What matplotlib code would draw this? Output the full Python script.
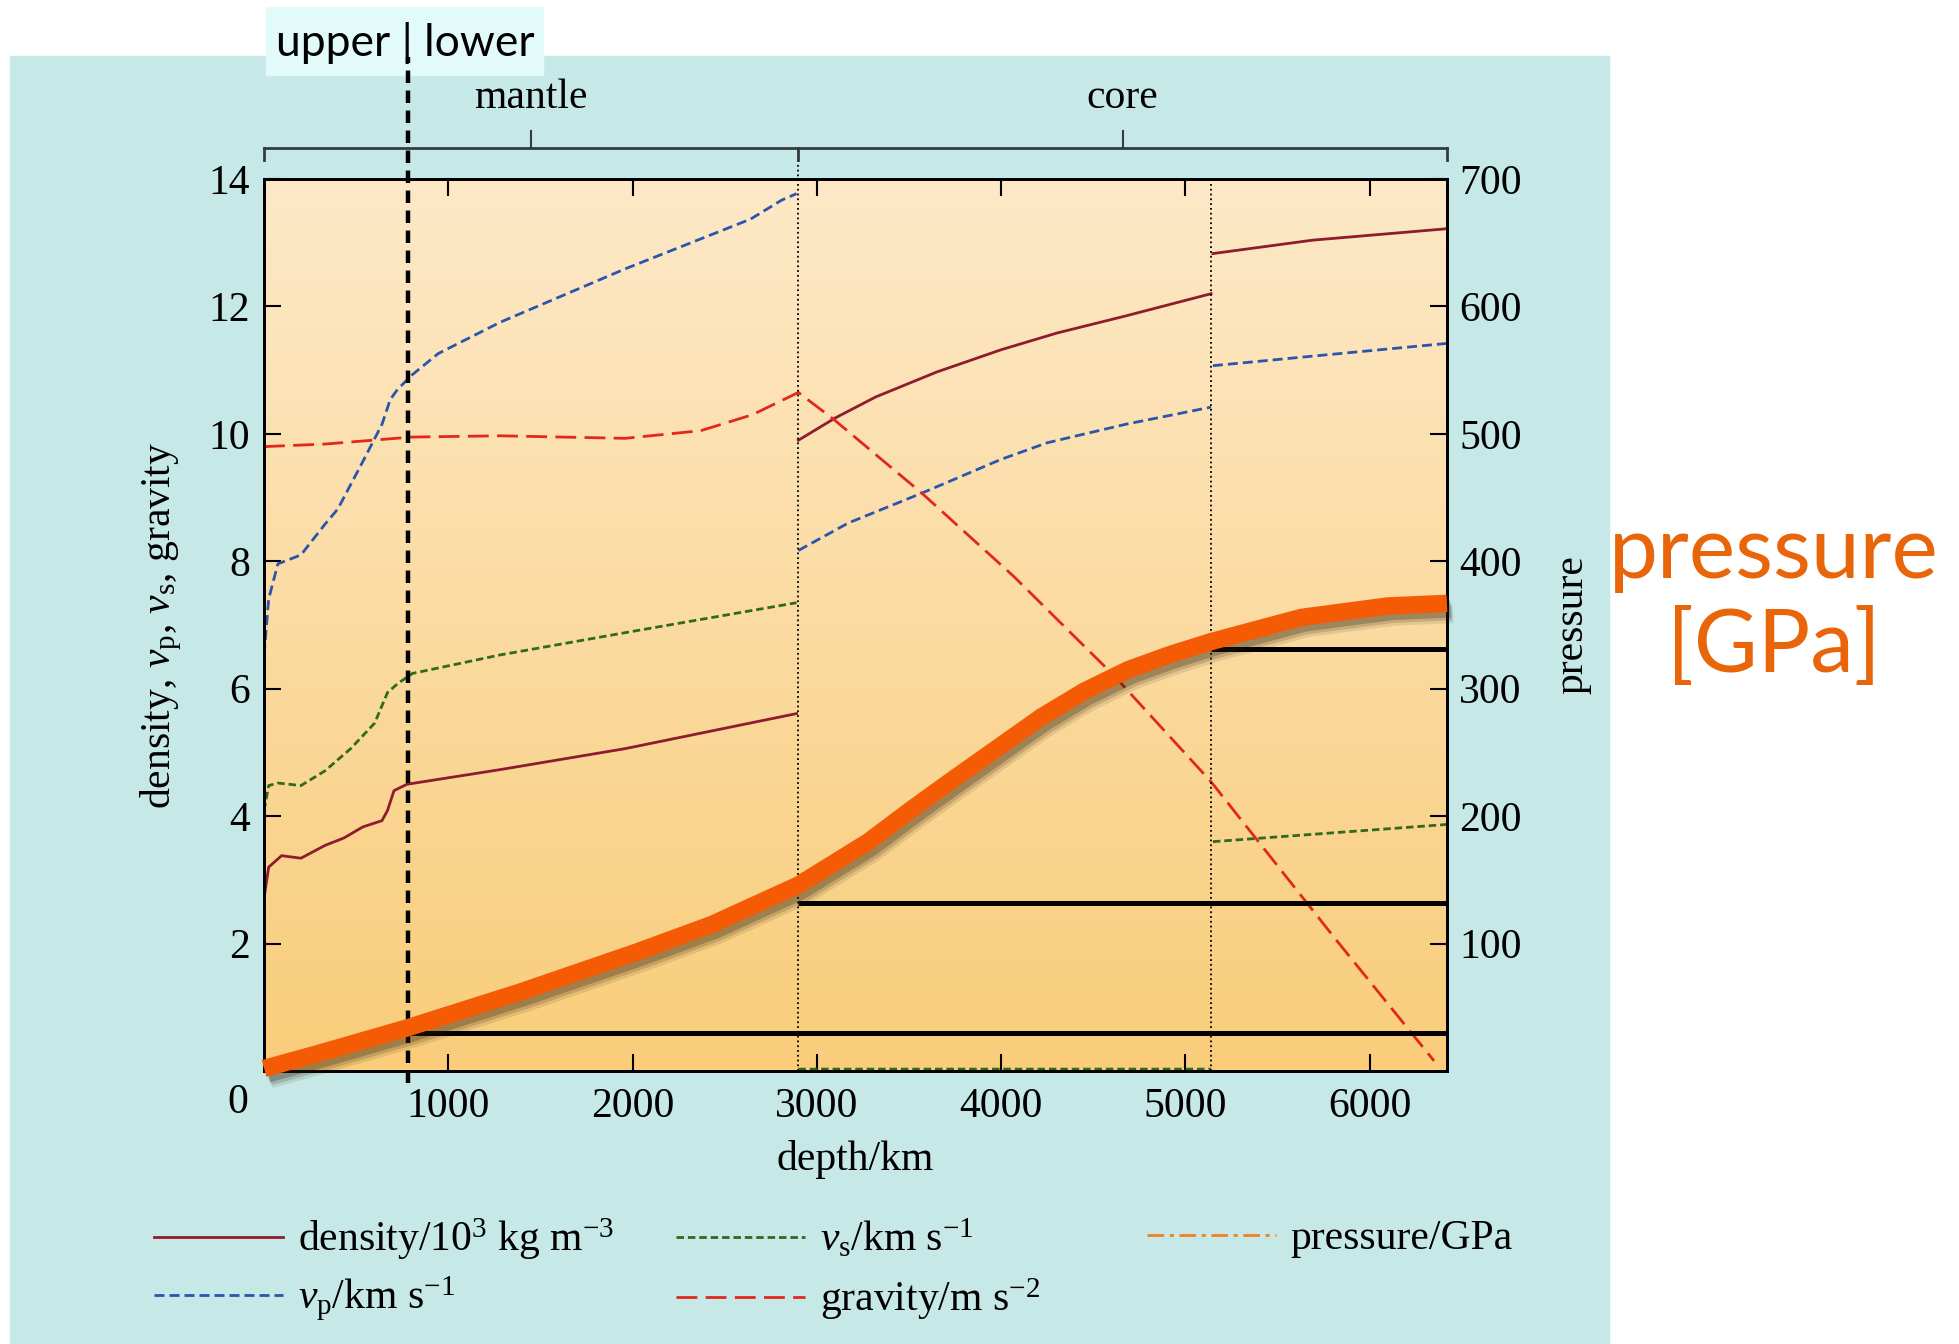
import numpy as np
import matplotlib.pyplot as plt
import matplotlib.patheffects as pe
from matplotlib.patches import Rectangle
from matplotlib.colors import LinearSegmentedColormap

plt.rcParams['font.family'] = 'Liberation Serif'
plt.rcParams['mathtext.fontset'] = 'custom'
plt.rcParams['mathtext.rm'] = 'Liberation Serif'
plt.rcParams['mathtext.it'] = 'Liberation Serif:italic'

# values (depth in km), NaN separates the layers
dens_depth = [0, 25, 95, 200, 330, 435, 535, 640, 670, 705, 775, 1280, 1960, 2890, np.nan,
              2900, 3100, 3320, 3650, 4000, 4300, 4675, 5140, np.nan, 5150, 5690, 6420]
density = [2.72, 3.2, 3.38, 3.34, 3.54, 3.66, 3.83, 3.93, 4.09, 4.40, 4.50, 4.73, 5.06, 5.61, np.nan,
           9.9, 10.25, 10.58, 10.97, 11.32, 11.58, 11.85, 12.2, np.nan, 12.83, 13.04, 13.22]

vp_depth = [0, 25, 75, 200, 330, 400, 535, 640, 685, 725, 805, 945, 1280, 1960, 2640, 2810, 2890, np.nan,
            2900, 3170, 3570, 4000, 4250, 4675, 5140, np.nan, 5150, 5690, 6420]
vp = [6.53, 7.41, 7.96, 8.1, 8.58, 8.82, 9.56, 10.15, 10.54, 10.7, 10.93, 11.26, 11.75, 12.59, 13.37, 13.67, 13.77, np.nan,
      8.17, 8.6, 9.07, 9.6, 9.86, 10.15, 10.42, np.nan, 11.07, 11.22, 11.42]

vs_depth = [0, 25, 75, 200, 330, 470, 600, 670, 725, 805, 1280, 1960, 2890, np.nan,
            2900, 5140, np.nan, 5150, 6420]
vs = [4.09, 4.48, 4.52, 4.48, 4.71, 5.06, 5.46, 5.94, 6.08, 6.24, 6.53, 6.88, 7.35, np.nan,
      0.03, 0.03, np.nan, 3.6, 3.87]

grav_depth = [0, 330, 800, 1280, 1960, 2370, 2650, 2900, 3095, 3570, 4070, 4615, 5140, 5810, 6350]
gravity = [9.8, 9.84, 9.95, 9.97, 9.93, 10.05, 10.3, 10.65, 10.22, 9.07, 7.76, 6.2, 4.54, 2.09, 0.16]

pres_depth = [0, 300, 780, 1390, 2015, 2430, 2900, 3280, 3510, 3750, 4220, 4450, 4690, 4920, 5140,
              5630, 6100, 6420]
pressure = [2, 14, 34, 62, 93, 115, 146, 180, 205, 230, 278, 298, 315, 327, 337, 356, 365, 367]

boundary_depth = [780, 2900, 5140]
boundary_pressure = [30, 132, 331]

left_ticks = [2, 4, 6, 8, 10, 12, 14]
right_ticks = [100, 200, 300, 400, 500, 600, 700]
depth_ticks = [1000, 2000, 3000, 4000, 5000, 6000]

XMAX = 6420
FS = 30

fig = plt.figure(figsize=(19.59, 13.44), dpi=100)
fig.patches.append(Rectangle((0.0051, 0), 0.8162, 0.9583, transform=fig.transFigure,
                             color='#c6e9e7', zorder=-10))
fig.patches.append(Rectangle((0.1358, 0.944), 0.1414, 0.051, transform=fig.transFigure,
                             color='#e2fafa', zorder=-5))
fig.text(0.2067, 0.968, 'upper | lower', family='Lato', fontsize=32, ha='center', va='center')

ax = fig.add_axes([0.1348, 0.2031, 0.6038, 0.6637])
ax.set_xlim(0, XMAX)
ax.set_ylim(0, 14)
bg = LinearSegmentedColormap.from_list('bg', ['#fde9c8', '#f9cd7a'])
ax.imshow(np.linspace(0, 1, 256)[:, None], cmap=bg, extent=(0, XMAX, 0, 14),
          origin='upper', aspect='auto', zorder=0)

l_dens, = ax.plot(dens_depth, density, color='#8e1b2e', lw=2, label=r'density/10$^3$ kg m$^{-3}$')
l_vp, = ax.plot(vp_depth, vp, color='#2a55ad', lw=2, dashes=(3.6, 1.8), label=r'$v_\mathrm{p}$/km s$^{-1}$')
l_vs, = ax.plot(vs_depth, vs, color='#2f6a1e', lw=2, dashes=(2.7, 1.4), label=r'$v_\mathrm{s}$/km s$^{-1}$')
l_g, = ax.plot(grav_depth, gravity, color='#e2281c', lw=2, dashes=(7.5, 3), label=r'gravity/m s$^{-2}$')
l_p, = ax.plot([], [], color='#f08020', lw=2, dashes=(6, 2, 1.5, 2), label='pressure/GPa')

# layer boundaries
ax.plot([boundary_depth[1]] * 2, [0, 14.49], color='k', lw=1.3, ls=':', clip_on=False)
ax.plot([boundary_depth[2]] * 2, [0, 14], color='k', lw=1.3, ls=':')
ax.plot([boundary_depth[0]] * 2, [-0.18, 15.92], color='k', lw=3.2, dashes=(2.8, 1.7), clip_on=False, zorder=5)

# mantle / core bracket
bc = '#333a40'
ax.plot([0, XMAX], [14.49, 14.49], color=bc, lw=2, clip_on=False)
for xb in [0, boundary_depth[1], XMAX]:
    ax.plot([xb, xb], [14.49, 14.3], color=bc, lw=2, clip_on=False)
for xc, name in [(boundary_depth[1] / 2, 'mantle'), ((boundary_depth[1] + XMAX) / 2, 'core')]:
    ax.plot([xc, xc], [14.49, 14.75], color=bc, lw=1.5, clip_on=False)
    ax.text(xc, 15.27, name, ha='center', va='center', fontsize=FS)

ax.set_xticks(depth_ticks)
ax.set_yticks(left_ticks)
ax.tick_params(direction='in', length=12, width=1.5, labelsize=FS, top=True)
ax.tick_params(axis='y', pad=10)
ax.tick_params(axis='x', pad=12)
ax.text(-142, -0.49, '0', ha='center', va='center', fontsize=FS)
ax.set_xlabel('depth/km', fontsize=FS, labelpad=10)
ax.set_ylabel(r'density, $v_\mathrm{p}$, $v_\mathrm{s}$, gravity', fontsize=FS, labelpad=18)
for s in ax.spines.values():
    s.set_linewidth(2)

ax2 = ax.twinx()
ax2.set_ylim(0, 700)
ax2.set_yticks(right_ticks)
ax2.tick_params(direction='in', length=12, width=1.5, labelsize=FS, pad=9)
ax2.set_ylabel('pressure', fontsize=FS, labelpad=22)
for s in ax2.spines.values():
    s.set_linewidth(2)
ax2.hlines(boundary_pressure, boundary_depth, XMAX, color='k', lw=3.6, zorder=3)
# soft drop shadow under the thick pressure curve
shadow = [pe.SimpleLineShadow(offset=off, shadow_color='#2a1804', alpha=a, linewidth=12.5)
          for off, a in [((4.5, -8), 0.10), ((3.5, -6), 0.16), ((2.5, -4), 0.25)]]
ax2.plot(pres_depth, pressure, color='#f55a05', lw=12.5, solid_capstyle='butt', solid_joinstyle='round',
         zorder=4, clip_on=False, path_effects=shadow + [pe.Normal()])

fig.text(0.9056, 0.553, 'pressure\n[GPa]', family='Lato', fontsize=63, color='#e8650a',
         ha='center', va='center', linespacing=1.22)

# legend entries placed one by one
entries = [(l_dens, 0.0785, 0.078), (l_vp, 0.0785, 0.0333), (l_vs, 0.345, 0.078),
           (l_g, 0.345, 0.0333), (l_p, 0.5855, 0.078)]
for h, lx, ly in entries:
    lg = fig.legend([h], [h.get_label()], loc='center left', bbox_to_anchor=(lx, ly),
                    frameon=False, fontsize=FS, handlelength=3.1, handletextpad=0.35,
                    borderpad=0, borderaxespad=0)

fig.savefig('out.png', dpi=100)
